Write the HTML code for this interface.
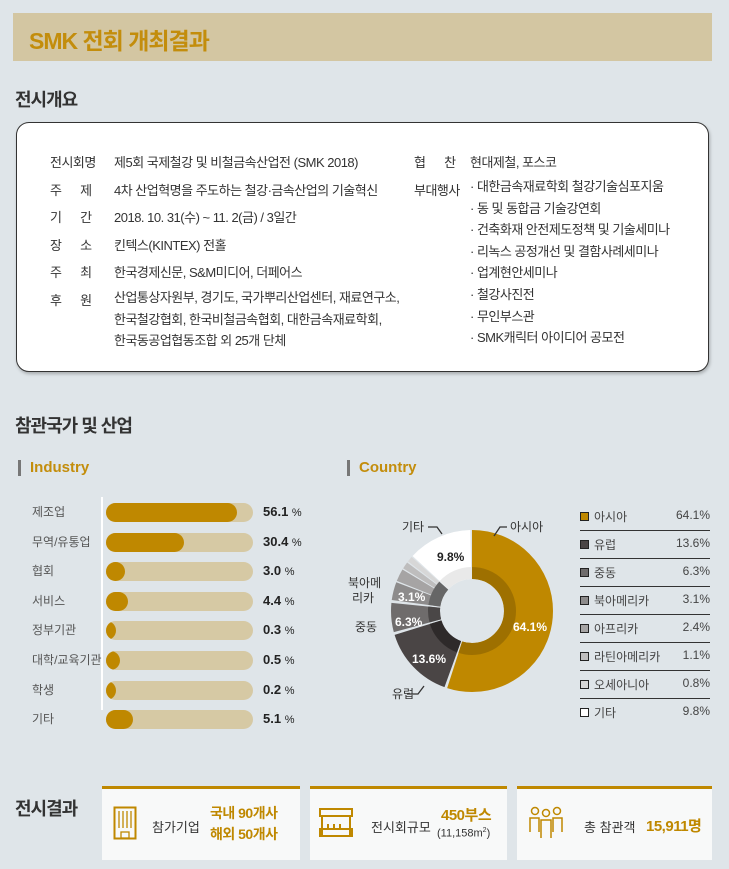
<!DOCTYPE html>
<html><head><meta charset="utf-8"><style>
*{margin:0;padding:0;box-sizing:border-box}
body{width:729px;height:869px;background:#dfe5e9;font-family:"Liberation Sans","Noto Sans CJK KR",sans-serif;position:relative;overflow:hidden;color:#333}
.a{position:absolute;white-space:nowrap}
.title{left:13px;top:13px;width:699px;height:48px;background:#d3c6a2}
.title span{position:absolute;left:16px;top:9px;font-size:23px;font-weight:bold;color:#c38d0c;letter-spacing:-1px}
.h{font-size:18px;font-weight:bold;color:#333;letter-spacing:-1px}
.box{left:16px;top:122px;width:693px;height:250px;background:#fff;border:1.5px solid #333;border-radius:13px;box-shadow:1px 2px 3px rgba(0,0,0,.25)}
.r{font-size:13px;color:#333;letter-spacing:-0.5px}
.lb{font-size:13px;color:#333}
.sub{font-size:15px;font-weight:bold;color:#c38d0c}
.mk{width:3px;height:16px;background:#777}
.il{font-size:12px;color:#555}
.bar{left:106px;width:147px;height:19px;background:#d6c9a4;border-radius:10px;overflow:hidden}
.bar i{display:block;height:19px;background:#bf8800;border-radius:0 10px 10px 0}
.v{font-size:13px;font-weight:bold;color:#222}
.v small{font-weight:normal;font-size:11px}
.lg{left:580px;width:130px;height:28px;border-bottom:1.3px solid #333;font-size:12px;color:#444}
.lg b{position:absolute;left:0;top:9px;width:9px;height:9px;border:1px solid #222}
.lg span{position:absolute;left:14px;top:5px}
.lg em{position:absolute;right:0;top:5px;font-style:normal}
.card{top:786px;height:74px;background:#f8f9f9;border-top:3px solid #bf8800}
.gold{color:#bf8800;font-weight:bold;font-size:14px;letter-spacing:-0.5px}
</style></head><body>
<div class="a title"><span>SMK 전회 개최결과</span></div>
<div class="a h" style="left:15px;top:86px">전시개요</div>
<div class="a box"></div>
<div class="a r" style="left:50px;top:149px;line-height:27.5px">전시회명<br>주&nbsp;&nbsp;&nbsp;&nbsp;&nbsp;&nbsp;제<br>기&nbsp;&nbsp;&nbsp;&nbsp;&nbsp;&nbsp;간<br>장&nbsp;&nbsp;&nbsp;&nbsp;&nbsp;&nbsp;소<br>주&nbsp;&nbsp;&nbsp;&nbsp;&nbsp;&nbsp;최<br>후&nbsp;&nbsp;&nbsp;&nbsp;&nbsp;&nbsp;원</div>
<div class="a r" style="left:114px;top:149px;line-height:27.5px">제5회 국제철강 및 비철금속산업전 (SMK 2018)<br>4차 산업혁명을 주도하는 철강·금속산업의 기술혁신<br>2018. 10. 31(수) ~ 11. 2(금) / 3일간<br>킨텍스(KINTEX) 전홀<br>한국경제신문, S&amp;M미디어, 더페어스</div>
<div class="a r" style="left:114px;top:287px;line-height:21.5px">산업통상자원부, 경기도, 국가뿌리산업센터, 재료연구소,<br>한국철강협회, 한국비철금속협회, 대한금속재료학회,<br>한국동공업협동조합 외 25개 단체</div>
<div class="a r" style="left:414px;top:149px;line-height:27.5px">협&nbsp;&nbsp;&nbsp;&nbsp;&nbsp;&nbsp;찬<br>부대행사</div>
<div class="a r" style="left:470px;top:149px;line-height:27.5px">현대제철, 포스코</div>
<div class="a r" style="left:470px;top:176px;line-height:21.6px">· 대한금속재료학회 철강기술심포지움<br>· 동 및 동합금 기술강연회<br>· 건축화재 안전제도정책 및 기술세미나<br>· 리녹스 공정개선 및 결함사례세미나<br>· 업계현안세미나<br>· 철강사진전<br>· 무인부스관<br>· SMK캐릭터 아이디어 공모전</div>

<div class="a h" style="left:15px;top:412px">참관국가 및 산업</div>
<div class="a mk" style="left:18px;top:460px"></div>
<div class="a sub" style="left:30px;top:459px">Industry</div>
<div class="a mk" style="left:347px;top:460px"></div>
<div class="a sub" style="left:359px;top:459px">Country</div>
<div class="a" style="left:101px;top:497px;width:1.5px;height:213px;background:#fff"></div>

<div class="a il" style="left:32px;top:503px">제조업</div><div class="a bar" style="top:503px"><i style="width:131px"></i></div><div class="a v" style="left:263px;top:504px">56.1 <small>%</small></div>
<div class="a il" style="left:32px;top:533px">무역/유통업</div><div class="a bar" style="top:533px"><i style="width:78px"></i></div><div class="a v" style="left:263px;top:534px">30.4 <small>%</small></div>
<div class="a il" style="left:32px;top:562px">협회</div><div class="a bar" style="top:562px"><i style="width:19px"></i></div><div class="a v" style="left:263px;top:563px">3.0 <small>%</small></div>
<div class="a il" style="left:32px;top:592px">서비스</div><div class="a bar" style="top:592px"><i style="width:22px"></i></div><div class="a v" style="left:263px;top:593px">4.4 <small>%</small></div>
<div class="a il" style="left:32px;top:621px">정부기관</div><div class="a bar" style="top:621px"><i style="width:10px"></i></div><div class="a v" style="left:263px;top:622px">0.3 <small>%</small></div>
<div class="a il" style="left:32px;top:651px">대학/교육기관</div><div class="a bar" style="top:651px"><i style="width:14px"></i></div><div class="a v" style="left:263px;top:652px">0.5 <small>%</small></div>
<div class="a il" style="left:32px;top:681px">학생</div><div class="a bar" style="top:681px"><i style="width:10px"></i></div><div class="a v" style="left:263px;top:682px">0.2 <small>%</small></div>
<div class="a il" style="left:32px;top:710px">기타</div><div class="a bar" style="top:710px"><i style="width:27px"></i></div><div class="a v" style="left:263px;top:711px">5.1 <small>%</small></div>

<svg class="a" style="left:340px;top:490px" width="240" height="240" viewBox="340 490 240 240">
<g transform="rotate(-90 472 611)" fill="none">
<circle cx="472" cy="611" r="56.5" stroke-width="49" pathLength="360" stroke="#bf8800" stroke-dasharray="198 400" stroke-dashoffset="0"/>
<circle cx="472" cy="611" r="56.5" stroke-width="49" pathLength="360" stroke="#4a4545" stroke-dasharray="53 400" stroke-dashoffset="-200"/>
<circle cx="472" cy="611" r="56.5" stroke-width="49" pathLength="360" stroke="#6f6c6c" stroke-dasharray="21 400" stroke-dashoffset="-255"/>
<circle cx="472" cy="611" r="56.5" stroke-width="49" pathLength="360" stroke="#8d8b8b" stroke-dasharray="13 400" stroke-dashoffset="-278"/>
<circle cx="472" cy="611" r="56.5" stroke-width="49" pathLength="360" stroke="#a6a4a4" stroke-dasharray="9 400" stroke-dashoffset="-292"/>
<circle cx="472" cy="611" r="56.5" stroke-width="49" pathLength="360" stroke="#bebdbd" stroke-dasharray="5 400" stroke-dashoffset="-302"/>
<circle cx="472" cy="611" r="56.5" stroke-width="49" pathLength="360" stroke="#d7d7d7" stroke-dasharray="4 400" stroke-dashoffset="-308"/>
<circle cx="472" cy="611" r="56.5" stroke-width="49" pathLength="360" stroke="#ffffff" stroke-dasharray="46 400" stroke-dashoffset="-313"/>
<circle cx="472" cy="611" r="38" stroke-width="12" pathLength="360" stroke="#9e7000" stroke-dasharray="198 400"/>
<circle cx="472" cy="611" r="38" stroke-width="12" pathLength="360" stroke="#2e2a2a" stroke-dasharray="53 400" stroke-dashoffset="-200"/>
<circle cx="472" cy="611" r="38" stroke-width="12" pathLength="360" stroke="#4a4747" stroke-dasharray="21 400" stroke-dashoffset="-255"/>
<circle cx="472" cy="611" r="38" stroke-width="12" pathLength="360" stroke="#666" stroke-dasharray="34 400" stroke-dashoffset="-278"/>
<circle cx="472" cy="611" r="38" stroke-width="12" pathLength="360" stroke="#e9e9e9" stroke-dasharray="46 400" stroke-dashoffset="-313"/>
</g>
<g stroke="#333" fill="none" stroke-width="1.3">
<polyline points="507,527 500,527 494,536"/>
<polyline points="428,527 437,527 442,534"/>
<polyline points="407,694 418,694 424,686"/>
</g>
<g font-size="12" fill="#333" font-family="Liberation Sans,Noto Sans CJK KR,sans-serif">
<text x="510" y="531">아시아</text>
<text x="402" y="531">기타</text>
<text x="348" y="587">북아메</text><text x="352" y="602">리카</text>
<text x="355" y="631">중동</text>
<text x="392" y="698">유럽</text>
</g>
<g font-size="12" font-weight="bold" font-family="Liberation Sans,sans-serif">
<text x="437" y="561" fill="#222">9.8%</text>
<text x="398" y="601" fill="#fff">3.1%</text>
<text x="395" y="626" fill="#fff">6.3%</text>
<text x="412" y="663" fill="#fff">13.6%</text>
<text x="513" y="631" fill="#fff">64.1%</text>
</g>
</svg>

<div class="a lg" style="top:503px;"><b style="background:#bf8800"></b><span>아시아</span><em>64.1%</em></div>
<div class="a lg" style="top:531px;"><b style="background:#4a4545"></b><span>유럽</span><em>13.6%</em></div>
<div class="a lg" style="top:559px;"><b style="background:#6f6c6c"></b><span>중동</span><em>6.3%</em></div>
<div class="a lg" style="top:587px;"><b style="background:#8d8b8b"></b><span>북아메리카</span><em>3.1%</em></div>
<div class="a lg" style="top:615px;"><b style="background:#a6a4a4"></b><span>아프리카</span><em>2.4%</em></div>
<div class="a lg" style="top:643px;"><b style="background:#bebdbd"></b><span>라틴아메리카</span><em>1.1%</em></div>
<div class="a lg" style="top:671px;"><b style="background:#d7d7d7"></b><span>오세아니아</span><em>0.8%</em></div>
<div class="a lg" style="top:699px;border-bottom:none"><b style="background:#fff"></b><span>기타</span><em>9.8%</em></div>

<div class="a h" style="left:15px;top:795px">전시결과</div>
<div class="a card" style="left:102px;width:198px"></div>
<div class="a card" style="left:310px;width:197px"></div>
<div class="a card" style="left:517px;width:195px"></div>
<svg class="a" style="left:113px;top:806px" width="24" height="34"><rect x="1.5" y="1.5" width="21" height="31" fill="none" stroke="#bf8800" stroke-width="2"/><g stroke="#bf8800" stroke-width="1.3"><line x1="6" y1="5" x2="6" y2="22"/><line x1="10" y1="5" x2="10" y2="22"/><line x1="14" y1="5" x2="14" y2="22"/><line x1="18" y1="5" x2="18" y2="22"/></g><rect x="8" y="26" width="8" height="6" fill="none" stroke="#bf8800" stroke-width="1.3"/></svg>
<div class="a" style="left:152px;top:817px;font-size:13px">참가기업</div>
<div class="a gold" style="left:210px;top:803px;line-height:21px">국내 90개사<br>해외 50개사</div>
<svg class="a" style="left:319px;top:808px" width="34" height="30" fill="none" stroke="#bf8800" stroke-width="2"><rect x="1" y="1" width="32" height="7"/><line x1="3" y1="8" x2="3" y2="27"/><line x1="31" y1="8" x2="31" y2="27"/><rect x="1" y="21" width="32" height="7"/><line x1="9" y1="16" x2="9" y2="21"/><line x1="15" y1="16" x2="15" y2="21"/><line x1="21" y1="16" x2="21" y2="21"/></svg>
<div class="a" style="left:371px;top:817px;font-size:13px">전시회규모</div>
<div class="a gold" style="left:441px;top:804px;font-size:15px">450부스</div>
<div class="a" style="left:437px;top:827px;font-size:11px">(11,158m<sup style="font-size:7px">2</sup>)</div>
<svg class="a" style="left:529px;top:806px" width="34" height="34" fill="none" stroke="#bf8800" stroke-width="1.5"><circle cx="6" cy="5" r="3.5"/><circle cx="17" cy="7" r="3.5"/><circle cx="28" cy="5" r="3.5"/><path d="M1 26V12h9v14M12 32V14h10v18M24 26V12h9v14"/></svg>
<div class="a" style="left:584px;top:817px;font-size:13px">총 참관객</div>
<div class="a gold" style="left:646px;top:815px;font-size:15px">15,911명</div>
</body></html>
